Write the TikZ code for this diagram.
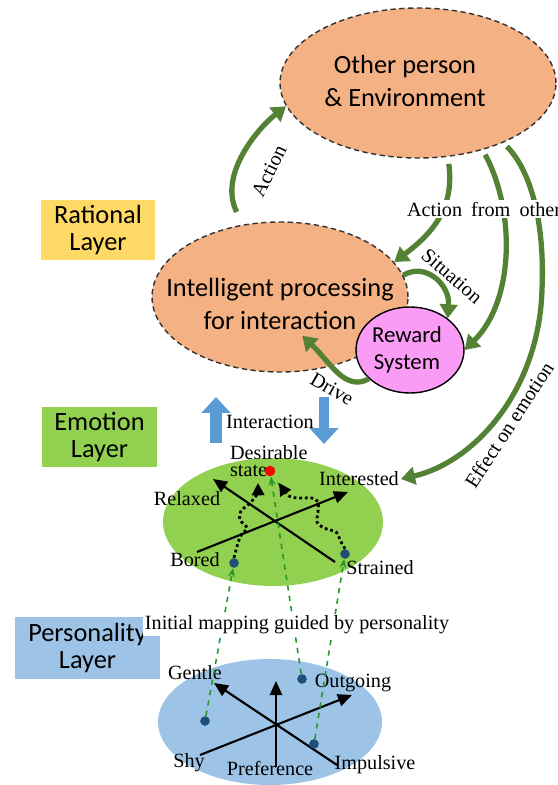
\documentclass[tikz,border=0pt]{standalone}
\usepackage{fontspec}
\setmainfont{Liberation Serif}
\newfontfamily\calibri{Carlito}
\usetikzlibrary{shapes.geometric,arrows.meta}

\definecolor{peach}{RGB}{244,177,131}
\definecolor{ratyellow}{RGB}{255,217,102}
\definecolor{emogreen}{RGB}{146,208,80}
\definecolor{perblue}{RGB}{157,195,230}
\definecolor{rewpink}{RGB}{250,155,245}
\definecolor{arrgreen}{RGB}{84,130,53}
\definecolor{intblue}{RGB}{91,155,213}
\definecolor{mapgreen}{RGB}{40,150,40}
\definecolor{dotblue}{RGB}{31,78,121}

\tikzset
{
  layer/.style={inner sep=0pt,align=center,font=\calibri\fontsize{15}{15.5}\selectfont},
  blob/.style={ellipse,inner sep=0pt},
  dashblob/.style={blob,draw=black!80,line width=0.8pt,dash pattern=on 3pt off 2pt,fill=peach},
  bigtext/.style={align=center,font=\calibri\fontsize{15}{18.5}\selectfont},
  flow/.style={arrgreen,line width=3pt,-{Triangle[width=10pt,length=8pt]}},
  lbl/.style={font=\fontsize{11.5}{13}\selectfont,inner sep=1pt},
  axis/.style={line width=1.2pt,-{Triangle[width=7pt,length=8pt]}},
  mood/.style={circle,fill=dotblue,inner sep=0pt,minimum size=5.5pt},
  mapline/.style={mapgreen,dashed,line width=0.9pt,-{Stealth[length=5pt,width=4pt]}},
  wiggle/.style={line width=1.6pt,dash pattern=on 1.6pt off 1.6pt,-{Triangle[width=7pt,length=7pt]}},
  updown/.style={intblue,line width=7pt,-{Triangle[width=16pt,length=9pt]}}
}

\begin{document}
\begin{tikzpicture}[x=0.02cm,y=-0.02cm]
\useasboundingbox (0,0) rectangle (558,785);
% 左侧三个层
\node[layer,fill=ratyellow,minimum width=2.28cm,minimum height=1.22cm] (rational) at (98,230) {Rational\\Layer};
\node[layer,fill=emogreen,minimum width=2.3cm,minimum height=1.2cm] (emotionlayer) at (99.5,437) {Emotion\\Layer};
\node[layer,fill=perblue,minimum width=2.9cm,minimum height=1.24cm] (personalitylayer) at (87.5,648) {Personality\\Layer};
% 上方的椭圆
\node[dashblob,minimum width=5.52cm,minimum height=3cm] (other) at (418,83) {};
\node[bigtext] (otherlabel) at (405,81) {Other person\\\& Environment};
\node[dashblob,minimum width=5.12cm,minimum height=3cm] (intel) at (280,297) {};
\node[bigtext] (intellabel) at (280,304) {Intelligent processing\\for interaction};
\node[blob,draw,line width=0.8pt,fill=rewpink,minimum width=2.16cm,minimum height=1.72cm] (reward) at (410,350) {};
\node[bigtext,font=\calibri\fontsize{13}{15.5}\selectfont] (rewardlabel) at (407,350) {Reward\\System};
% 情绪层
\node[blob,fill=emogreen,minimum width=4.4cm,minimum height=2.56cm] (emotion) at (273,522) {};
\node[lbl] (relaxed) at (187,499) {Relaxed};
\node[lbl] (interested) at (359,479) {Interested};
\node[lbl,align=left,anchor=west,font=\fontsize{11.5}{10}\selectfont] (desirable) at (228,461) {Desirable\\state};
\node[lbl] (bored) at (195,560) {Bored};
\node[lbl] (strained) at (380,568) {Strained};
\coordinate (boredend) at (197,552);
\coordinate (interestedend) at (348,492);
\coordinate (strainedend) at (335,562);
\coordinate (relaxedend) at (213,479);
\draw[axis] (boredend) -- (interestedend);
\draw[axis] (strainedend) -- (relaxedend);
\node[circle,fill=red,inner sep=0pt,minimum size=6pt] (goal) at (270,471) {};
\node[mood] (boreddot) at (234,563) {};
\node[mood] (straineddot) at (345,554) {};
\draw[wiggle] plot[smooth] coordinates {(boreddot.north) (240,537) (247,528) (240,520) (241,511) (250,503) (257,494) (258,483)};
\draw[wiggle] plot[smooth] coordinates {(straineddot.north) (340,540) (336,532) (324,528) (317,522) (318,512) (318,502) (312,498) (300,498) (289,496) (279,483)};
% 绿色弯箭头
\draw[flow,shorten <=8pt] (intel.117) .. controls (218,175) and (258,128) .. (other.190);
\draw[flow,shorten <=4pt] (other.292) .. controls (455,210) and (430,235) .. (intel.17);
\draw[flow,shorten <=3pt] (other.314) .. controls (515,210) and (515,300) .. (reward.east);
\draw[flow,shorten <=3pt] (other.325) .. controls (530,170) and (545,220) .. (542,290)
  .. controls (539,390) and (475,462) .. (interested.east);
\draw[flow] (intel.10) .. controls (425,262) and (450,284) .. (reward.40);
\draw[flow] (reward.215) .. controls (345,392) and (330,362) .. (intellabel.-55);
\node[lbl,rotate=64] (actionlabel) at (269,171) {Action};
\node[lbl,fill=white,anchor=west] (fromother) at (405,209) {Action\hspace{0.45em}from\hspace{0.45em}other};
\node[lbl,rotate=-41] (situation) at (452,276) {Situation};
\node[lbl,rotate=-30] (drive) at (332,389) {Drive};
\node[lbl,rotate=57] (effect) at (509,425) {Effect on emotion};
% Interaction
\node[lbl] (interaction) at (270,422) {Interaction};
\coordinate (upfoot) at (216,443);
\coordinate (uphead) at (216,397);
\coordinate (downfoot) at (324,397);
\coordinate (downhead) at (324,444);
\draw[updown] (upfoot) -- (uphead);
\draw[updown,line width=5.5pt] (downfoot) -- (downhead);
% 人格层
\node[blob,fill=perblue,minimum width=4.48cm,minimum height=2.52cm] (personality) at (270,722) {};
\node[lbl] (gentle) at (195,673) {Gentle};
\node[lbl] (outgoing) at (353,683) {Outgoing};
\node[lbl] (shy) at (189,763) {Shy};
\node[lbl] (preference) at (270,768) {Preference};
\node[lbl] (impulsive) at (375,765) {Impulsive};
\coordinate (shyend) at (200,755);
\coordinate (outgoingend) at (352,695);
\coordinate (impulsiveend) at (337,765);
\coordinate (gentleend) at (214,683);
\coordinate (prefend) at (276,767);
\coordinate (preftip) at (276,681);
\draw[axis] (shyend) -- (outgoingend);
\draw[axis] (impulsiveend) -- (gentleend);
\draw[axis] (prefend) -- (preftip);
\node[mood] (shydot) at (205,721) {};
\node[mood] (outdot) at (302,679) {};
\node[mood] (impdot) at (314,744) {};
% 初始映射
\draw[mapline] (shydot) -- (boreddot);
\draw[mapline] (outdot) -- (goal);
\draw[mapline] (impdot) -- (straineddot);
\node[lbl,fill=white] (mapping) at (297,625) {Initial mapping guided by personality};
\end{tikzpicture}
\end{document}
